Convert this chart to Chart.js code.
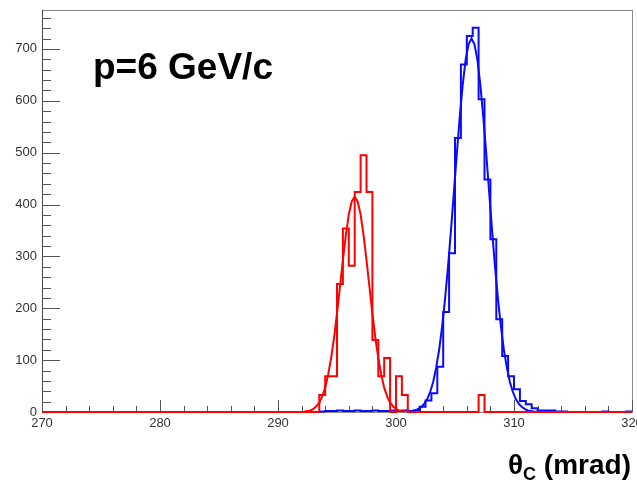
<!DOCTYPE html>
<html><head><meta charset="utf-8">
<script src="https://cdn.jsdelivr.net/npm/chart.js@4/dist/chart.umd.min.js"></script>
<style>
html,body{margin:0;padding:0;background:#fff;}
#wrap{position:relative;width:637px;height:484px;overflow:hidden;}
canvas{position:absolute;left:0;top:0;}
.lbl{position:absolute;font-family:"Liberation Sans",Arial,sans-serif;font-weight:bold;color:#000;white-space:nowrap;line-height:1;}
.lbl sub{font-size:18px;vertical-align:-6px;line-height:1;}
</style></head><body>
<div id="wrap">
<canvas id="c" width="637" height="484"></canvas>
<div class="lbl" id="title" style="left:93px;top:48px;font-size:37px;">p=6 GeV/c</div>
<div class="lbl" id="xtitle" style="right:6px;top:451px;font-size:28px;">θ<sub>C</sub> (mrad)</div>
</div>
<script>
// histogram binning (x axis categories)
const binStart = 270;
const binWidth = 0.5;
const nBins = 100;

// red histogram (bin contents, bins of 0.5 mrad from 270)
const redCounts = [
  0,0,0,0,0,0,0,0,0,0,
  0,0,0,0,0,0,0,0,0,0,
  0,0,0,0,0,0,0,0,0,0,
  0,0,0,0,0,0,0,0,0,0,
  0,0,0,0,0,0,0,33,69,69,
  247,354,282,424,495,424,139,69,104,0,
  69,33,0,0,0,0,0,0,0,0,
  0,0,0,0,33,0,0,0,0,0,
  0,0,0,0,0,0,0,0,0,0,
  0,0,0,0,0,0,0,0,0,0
];
// blue histogram
const blueCounts = [
  0,0,0,0,0,0,0,0,0,0,
  0,0,0,0,0,0,0,0,0,0,
  0,0,0,0,0,0,0,0,0,0,
  0,0,0,0,0,0,0,0,0,0,
  0,0,0,0,0,0,0,1,2,2,
  3,2,2,3,2,2,3,2,2,3,
  2,3,2,3,10,22,36,87,193,306,
  528,670,725,741,603,448,333,179,108,69,
  44,21,15,7,3,3,3,1,1,0,
  0,0,0,0,0,1,0,0,0,1
];
// red fit curve
const redFitX = [292.25,292.5,292.75,293,293.25,293.5,293.75,294,294.25,294.5,294.75,295,295.25,295.5,295.75,296,296.25,296.5,296.75,297,297.25,297.5,297.75,298,298.25,298.5,298.75,299,299.25,299.5,299.75,300,300.25,300.5,300.75];
const redFitY = [1,2,3,6,11,18,30,47,72,104,143,190,241,293,341,381,406,415,406,381,341,293,241,190,143,104,72,47,30,18,11,6,3,2,1];
// blue fit curve
const blueFitX = [300.9,301.15,301.4,301.65,301.9,302.15,302.4,302.65,302.9,303.15,303.4,303.65,303.9,304.15,304.4,304.65,304.9,305.15,305.4,305.65,305.9,306.15,306.4,306.65,306.9,307.15,307.4,307.65,307.9,308.15,308.4,308.65,308.9,309.15,309.4,309.65,309.9,310.15,310.4,310.65,310.9,311.15,311.4,311.65,311.9];
const blueFitY = [0.5,1,1.9,3.4,5.8,9.8,16,25,39,58,85,119,163,216,278,348,422,497,568,630,679,709,720,709,679,630,568,497,422,348,278,216,163,119,85,58,39,25,16,10,6,3,2,1,0.5];

// axis ticks
const xMajor = [270,280,290,300,310,320];
const xMinorStep = 2;
const yMajor = [0,100,200,300,400,500,600,700];
const yMinorStep = 20;
const xMin = 270, xMax = 320, yMin = 0, yMax = 775;

function histPoints(counts){
  const pts = counts.map((v,i)=>({x: binStart + i*binWidth, y: v}));
  pts.push({x: binStart + nBins*binWidth, y: counts[counts.length-1]});
  return pts;
}
function curvePoints(xs, ys){ return xs.map((x,i)=>({x:x, y:ys[i]})); }

const RED = '#ff0000', BLUE = '#0a0aff';

const rootFrame = {
  id: 'rootFrame',
  beforeDatasetsDraw(chart){
    const ctx = chart.ctx, a = chart.chartArea;
    const xs = chart.scales.x, ys = chart.scales.y;
    ctx.save();
    ctx.lineWidth = 1;
    ctx.strokeStyle = '#8a8a8a';
    ctx.strokeRect(Math.round(a.left)+0.5, Math.round(a.top)+0.5, Math.round(a.right-a.left), Math.round(a.bottom-a.top));
    ctx.strokeStyle = '#444';
    ctx.beginPath();
    ctx.moveTo(Math.round(a.left)+0.5, Math.round(a.top));
    ctx.lineTo(Math.round(a.left)+0.5, Math.round(a.bottom)+1);
    ctx.stroke();
    ctx.strokeStyle = '#555';
    ctx.beginPath();
    for(let v = xMin; v <= xMax + 1e-9; v += xMinorStep){
      const px = Math.round(xs.getPixelForValue(v)) + 0.5;
      const len = xMajor.includes(v) ? 12 : 6;
      ctx.moveTo(px, a.bottom);
      ctx.lineTo(px, a.bottom - len);
    }
    for(let v = yMin; v <= yMax; v += yMinorStep){
      const py = Math.round(ys.getPixelForValue(v)) + 0.5;
      const len = yMajor.includes(v) ? 18 : 9;
      ctx.moveTo(a.left, py);
      ctx.lineTo(a.left + len, py);
    }
    ctx.stroke();
    ctx.restore();
  }
};

new Chart(document.getElementById('c'), {
  type: 'scatter',
  data: {
    datasets: [
      {label:'red fit', data: curvePoints(redFitX, redFitY), showLine:true, borderColor:RED, borderWidth:2, pointRadius:0, tension:0, order:0, clip:false},
      {label:'red', data: histPoints(redCounts), showLine:true, stepped:true, borderColor:RED, borderWidth:2, pointRadius:0, order:1, clip:false},
      {label:'blue fit', data: curvePoints(blueFitX, blueFitY), showLine:true, borderColor:BLUE, borderWidth:2, pointRadius:0, tension:0, order:2, clip:false},
      {label:'blue', data: histPoints(blueCounts), showLine:true, stepped:true, borderColor:BLUE, borderWidth:2, pointRadius:0, order:3, clip:false}
    ]
  },
  options: {
    responsive: false,
    animation: false,
    events: [],
    devicePixelRatio: 1,
    layout: {padding: {left:0, right:5, top:10, bottom:0}},
    plugins: {legend:{display:false}, tooltip:{enabled:false}, title:{display:false}},
    scales: {
      x: {
        type:'linear', min:xMin, max:xMax,
        grid:{display:false, drawTicks:false},
        border:{display:false},
        afterBuildTicks(s){ s.ticks = xMajor.map(v=>({value:v})); },
        afterFit(s){ s.height = 72; s.paddingLeft = 0; s.paddingRight = 0; },
        ticks:{autoSkip:false, maxRotation:0, padding:4, color:'#333', font:{family:'Liberation Sans', size:13}}
      },
      y: {
        type:'linear', min:yMin, max:yMax,
        grid:{display:false, drawTicks:false},
        border:{display:false},
        afterBuildTicks(s){ s.ticks = yMajor.map(v=>({value:v})); },
        afterFit(s){ s.width = 42; s.paddingTop = 0; s.paddingBottom = 0; },
        ticks:{autoSkip:false, padding:5, color:'#333', font:{family:'Liberation Sans', size:13}}
      }
    }
  },
  plugins: [rootFrame]
});
</script>
</body></html>
